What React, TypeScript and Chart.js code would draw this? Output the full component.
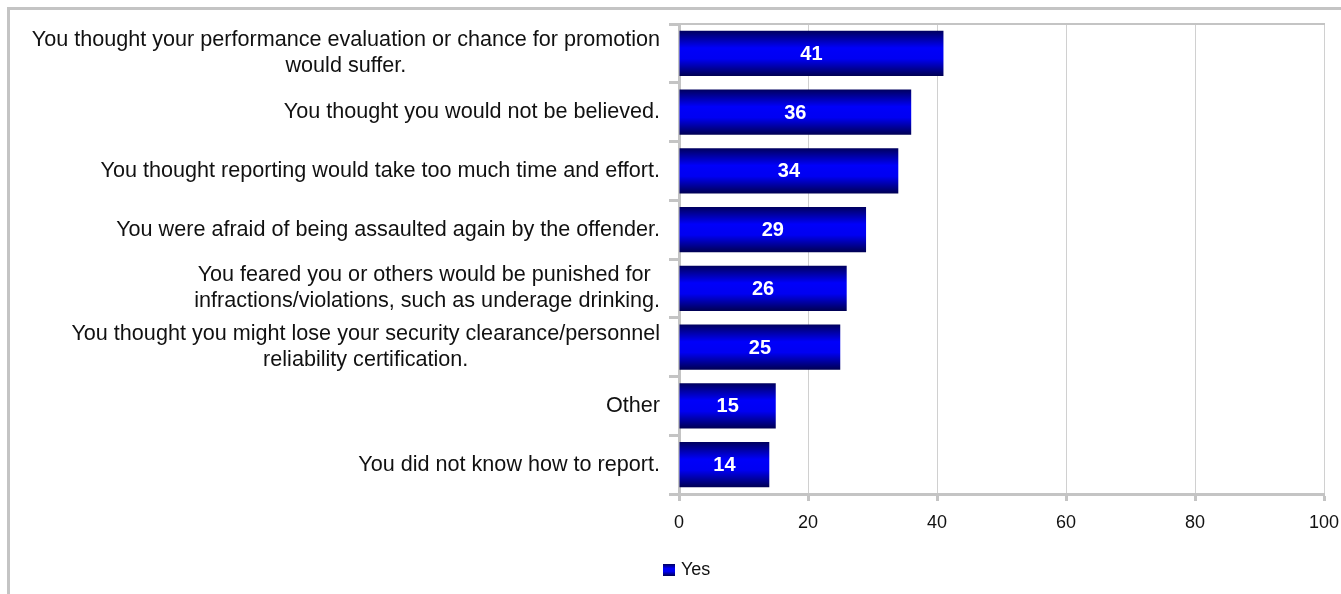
import React, { useEffect, useRef } from "react";
import { Chart, registerables } from "chart.js";

Chart.register(...registerables);

const categories: string[][] = [
  ["You thought your performance evaluation or chance for promotion", "would suffer."],
  ["You thought you would not be believed."],
  ["You thought reporting would take too much time and effort."],
  ["You were afraid of being assaulted again by the offender."],
  ["You feared you or others would be punished for ", "infractions/violations, such as underage drinking."],
  ["You thought you might lose your security clearance/personnel", "reliability certification."],
  ["Other"],
  ["You did not know how to report."],
];

const yesValues: number[] = [41, 36, 34, 29, 26, 25, 15, 14];

const seriesName = "Yes";
const xTicks: number[] = [0, 20, 40, 60, 80, 100];

const FONT = "'Liberation Sans', Arial, Helvetica, sans-serif";
const GRAY = "#c4c4c4";
const GRID = "#d0d0d0";
const BAR_PCT = 0.77;

function barGradient(c: CanvasRenderingContext2D, top: number, bottom: number) {
  const g = c.createLinearGradient(0, top, 0, bottom);
  g.addColorStop(0, "#00005e");
  g.addColorStop(0.38, "#0000fa");
  g.addColorStop(0.62, "#0000f2");
  g.addColorStop(1, "#000052");
  return g;
}

const framePlugin = {
  id: "frame",
  beforeDraw(chart: any) {
    const c = chart.ctx as CanvasRenderingContext2D;
    c.save();
    c.fillStyle = "#ffffff";
    c.fillRect(0, 0, chart.width, chart.height);
    c.fillStyle = GRAY;
    c.fillRect(7, 7, chart.width - 7, 3);
    c.fillRect(7, 7, 3, chart.height - 7);
    c.restore();
  },
  beforeDatasetsDraw(chart: any) {
    const c = chart.ctx as CanvasRenderingContext2D;
    const a = chart.chartArea;
    c.save();
    c.strokeStyle = GRAY;
    c.lineWidth = 2;
    c.beginPath();
    c.moveTo(a.left, a.top);
    c.lineTo(a.right + 1, a.top);
    c.stroke();
    c.restore();
  },
};

const labelPlugin = {
  id: "customLabels",
  afterDatasetsDraw(chart: any) {
    const c = chart.ctx as CanvasRenderingContext2D;
    const meta = chart.getDatasetMeta(0);
    c.save();
    // values inside bars
    c.fillStyle = "#ffffff";
    c.font = `bold 20px ${FONT}`;
    c.textAlign = "center";
    c.textBaseline = "middle";
    meta.data.forEach((el: any, i: number) => {
      c.fillText(String(yesValues[i]), (el.base + el.x) / 2, el.y + 1);
    });
    // category labels
    const yScale = chart.scales.y;
    c.fillStyle = "#111111";
    c.font = `21.6px ${FONT}`;
    const lineH = 26;
    categories.forEach((lines, i) => {
      const cy = yScale.getPixelForValue(i);
      const widths = lines.map((l) => c.measureText(l).width);
      const blockW = Math.max(...widths);
      const cx = 660 - blockW / 2;
      const startY = cy - ((lines.length - 1) * lineH) / 2;
      lines.forEach((l, k) => {
        c.fillText(l, cx, startY + k * lineH);
      });
    });
    // legend
    c.fillStyle = barGradient(c, 564, 576);
    c.fillRect(663, 564, 12, 12);
    c.fillStyle = "#111111";
    c.font = `18px ${FONT}`;
    c.textAlign = "left";
    c.fillText(seriesName, 681, 570);
    c.restore();
  },
};

export default function App() {
  const ref = useRef<HTMLCanvasElement>(null);
  useEffect(() => {
    if (!ref.current) return;
    const chart = new Chart(ref.current, {
      type: "bar",
      data: {
        labels: categories.map((l) => l.join(" ")),
        datasets: [
          {
            label: seriesName,
            data: yesValues,
            barPercentage: BAR_PCT,
            categoryPercentage: 1,
            backgroundColor: (ctx: any) => {
              const ch = ctx.chart;
              const y = ch.scales?.y;
              if (!y || typeof ctx.dataIndex !== "number") return "#0000ee";
              const center = y.getPixelForValue(ctx.dataIndex);
              const half = ((y.height / categories.length) * BAR_PCT) / 2;
              if (!isFinite(center) || !isFinite(half) || half <= 0) return "#0000ee";
              return barGradient(ch.ctx, center - half, center + half);
            },
            borderWidth: 0,
          },
        ],
      },
      options: {
        indexAxis: "y",
        responsive: false,
        animation: false,
        devicePixelRatio: 1,
        layout: { padding: { top: 24, right: 17, bottom: 0, left: 0 } },
        plugins: {
          legend: { display: false },
          tooltip: { enabled: false },
          title: { display: false },
        },
        scales: {
          x: {
            min: 0,
            max: 100,
            afterBuildTicks: (s: any) => {
              s.ticks = xTicks.map((v) => ({ value: v }));
            },
            afterFit: (s: any) => {
              s.height = 100;
              s.paddingLeft = 0;
              s.paddingRight = 0;
            },
            grid: {
              color: GRID,
              lineWidth: 1,
              drawOnChartArea: true,
              drawTicks: true,
              tickLength: 7,
              tickWidth: 3,
              tickColor: GRAY,
            },
            border: { display: true, width: 3, color: GRAY },
            ticks: {
              color: "#111111",
              font: { family: FONT, size: 18 },
              padding: 11,
              maxRotation: 0,
            },
          },
          y: {
            afterFit: (s: any) => {
              s.width = 679;
              s.paddingTop = 0;
              s.paddingBottom = 0;
            },
            grid: {
              offset: true,
              drawOnChartArea: false,
              drawTicks: true,
              tickLength: 10,
              tickWidth: 3,
              tickColor: GRAY,
              color: GRAY,
            },
            border: { display: true, width: 3, color: GRAY },
            ticks: { display: false },
          },
        },
      },
      plugins: [framePlugin, labelPlugin],
    } as any);
    return () => chart.destroy();
  }, []);
  return (
    <div style={{ position: "fixed", left: 0, top: 0, width: 1341, height: 594, background: "#fff" }}>
      <canvas ref={ref} width={1341} height={594} style={{ display: "block" }} />
    </div>
  );
}
